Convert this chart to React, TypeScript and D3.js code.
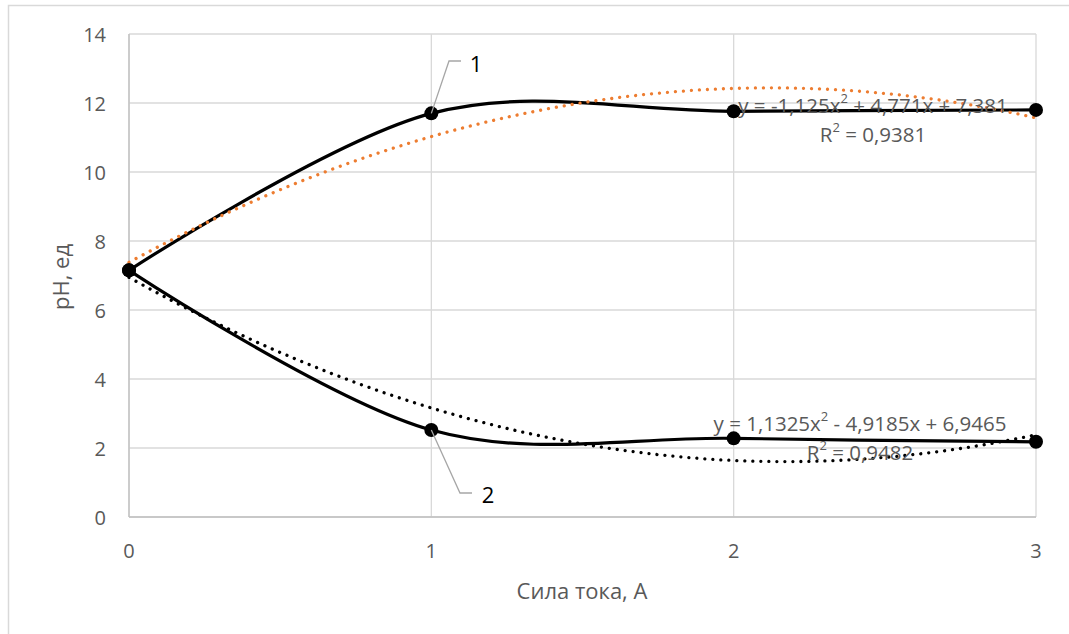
import React from "react";
import * as d3 from "d3";

const currents = [0, 1, 2, 3];
const series1 = [7.15, 11.7, 11.76, 11.8];
const series2 = [7.15, 2.52, 2.28, 2.18];
const trend1 = [-1.125, 4.771, 7.381];
const trend2 = [1.1325, -4.9185, 6.9465];
const yTicks = [0, 2, 4, 6, 8, 10, 12, 14];
const xTicks = [0, 1, 2, 3];
const eq1 = ["y = -1,125x", " + 4,771x + 7,381", "R", " = 0,9381"];
const eq2 = ["y = 1,1325x", " - 4,9185x + 6,9465", "R", " = 0,9482"];

const W = 1069;
const H = 634;
const L = 129, R = 1036, T = 34, B = 517;
const FONT = "'Open Sans', 'Noto Sans', sans-serif";
const GRAY = "#595959";
const FS = 20;

export default function App() {
  const x = d3.scaleLinear().domain([0, 3]).range([L, R]);
  const y = d3.scaleLinear().domain([0, 14]).range([B, T]);
  const line = d3
    .line<[number, number]>()
    .x((d) => x(d[0]))
    .y((d) => y(d[1]))
    .curve(d3.curveCardinal.tension(0));
  const tline = d3
    .line<[number, number]>()
    .x((d) => x(d[0]))
    .y((d) => y(d[1]));
  const poly = (c: number[]) =>
    d3.range(0, 3.0001, 0.02).map((v) => [v, c[0] * v * v + c[1] * v + c[2]] as [number, number]);
  const s1 = currents.map((c, i) => [c, series1[i]] as [number, number]);
  const s2 = currents.map((c, i) => [c, series2[i]] as [number, number]);

  const p1x = x(1), p1y = y(series1[1]);
  const p2x = x(1), p2y = y(series2[1]);

  const eqText = (parts: string[], cx: number, cy1: number, cy2: number) => (
    <g fill={GRAY} fontFamily={FONT} fontSize={20.5} textAnchor="middle">
      <text x={cx} y={cy1} dominantBaseline="central">
        {parts[0]}
        <tspan fontSize={13} dy={-7}>2</tspan>
        <tspan dy={7}>{parts[1]}</tspan>
      </text>
      <text x={cx} y={cy2} dominantBaseline="central">
        {parts[2]}
        <tspan fontSize={13} dy={-7}>2</tspan>
        <tspan dy={7}>{parts[3]}</tspan>
      </text>
    </g>
  );

  return (
    <svg
      width={W}
      height={H}
      style={{ position: "absolute", left: 0, top: 0, display: "block", background: "#fff" }}
    >
      <rect x={8.5} y={5.5} width={W} height={H} fill="none" stroke="#d9d9d9" strokeWidth={1.5} />
      {yTicks.map((t) => (
        <line key={"gy" + t} x1={L} x2={R} y1={y(t)} y2={y(t)} stroke="#d9d9d9" strokeWidth={1.3} />
      ))}
      {xTicks.map((t) => (
        <line key={"gx" + t} x1={x(t)} x2={x(t)} y1={T} y2={B} stroke="#d9d9d9" strokeWidth={1.3} />
      ))}
      <line x1={L} x2={L} y1={T} y2={B} stroke="#bfbfbf" strokeWidth={1.3} />
      <line x1={L} x2={R} y1={B} y2={B} stroke="#bfbfbf" strokeWidth={1.3} />
      {yTicks.map((t) => (
        <text key={"ty" + t} x={106} y={y(t)} textAnchor="end" dominantBaseline="central" fill={GRAY} fontFamily={FONT} fontSize={FS}>
          {t}
        </text>
      ))}
      {xTicks.map((t) => (
        <text key={"tx" + t} x={x(t)} y={550} textAnchor="middle" dominantBaseline="central" fill={GRAY} fontFamily={FONT} fontSize={FS}>
          {t}
        </text>
      ))}
      <text x={582} y={590} textAnchor="middle" dominantBaseline="central" fill={GRAY} fontFamily={FONT} fontSize={22}>
        Сила тока, А
      </text>
      <text
        transform="translate(60,277) rotate(-90)"
        textAnchor="middle"
        dominantBaseline="central"
        fill={GRAY}
        fontFamily={FONT}
        fontSize={22}
      >
        pH, ед
      </text>

      <path d={line(s1) || ""} fill="none" stroke="#000" strokeWidth={3.2} />
      <path d={line(s2) || ""} fill="none" stroke="#000" strokeWidth={3.2} />
      <path d={tline(poly(trend1)) || ""} fill="none" stroke="#ED7D31" strokeWidth={3.3} strokeLinecap="round" strokeDasharray="0.01 8" />
      <path d={tline(poly(trend2)) || ""} fill="none" stroke="#000" strokeWidth={3.3} strokeLinecap="round" strokeDasharray="0.01 8" />
      {s1.map((d, i) => (
        <circle key={"m1" + i} cx={x(d[0])} cy={y(d[1])} r={7} fill="#000" />
      ))}
      {s2.map((d, i) => (
        <circle key={"m2" + i} cx={x(d[0])} cy={y(d[1])} r={7} fill="#000" />
      ))}

      <polyline points={`${p1x},${p1y} ${449},${61} ${461},${61}`} fill="none" stroke="#a6a6a6" strokeWidth={1.3} />
      <text x={476} y={63} textAnchor="middle" dominantBaseline="central" fill="#000" fontFamily={FONT} fontSize={22}>
        1
      </text>
      <polyline points={`${p2x},${p2y} ${460},${493} ${472},${493}`} fill="none" stroke="#a6a6a6" strokeWidth={1.3} />
      <text x={488} y={494} textAnchor="middle" dominantBaseline="central" fill="#000" fontFamily={FONT} fontSize={22}>
        2
      </text>

      {eqText(eq1, 873, 105, 134)}
      {eqText(eq2, 860, 423, 452)}
    </svg>
  );
}
